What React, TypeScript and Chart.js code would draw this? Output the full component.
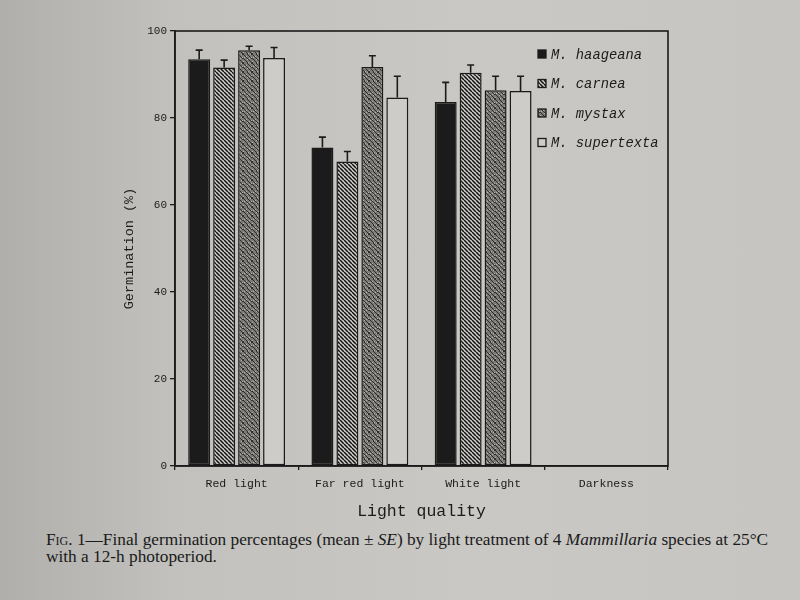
import React, { useEffect, useRef } from "react";
import { Chart, registerables } from "chart.js";

Chart.register(...registerables);

// ---- data ----
const categories = ["Red light", "Far red light", "White light", "Darkness"];
const speciesNames = ["M. haageana", "M. carnea", "M. mystax", "M. supertexta"];
const haageana = [93.5, 73.2, 83.7, 0];
const carnea = [91.6, 70.0, 90.4, 0];
const mystax = [95.6, 91.7, 86.4, 0];
const supertexta = [93.8, 84.7, 86.2, 0];
const haageanaSE = [2.1, 2.4, 4.5, 0];
const carneaSE = [1.7, 2.3, 1.8, 0];
const mystaxSE = [0.9, 2.6, 3.2, 0];
const supertextaSE = [2.4, 4.9, 3.4, 0];
const yMin = 0;
const yMax = 100;
const yStep = 20;
const xTitle = "Light quality";
const yTitle = "Germination (%)";

const INK = "#1b1b1b";
const PAPER = "#c7c6c2";
const MONO = '"Liberation Mono", "DejaVu Sans Mono", monospace';

function makeHatch(): CanvasPattern | string {
  const s = 4;
  const c = document.createElement("canvas");
  c.width = s;
  c.height = s;
  const g = c.getContext("2d");
  if (!g) return PAPER;
  g.fillStyle = "#cfceca";
  g.fillRect(0, 0, s, s);
  g.strokeStyle = "#121212";
  g.lineWidth = 1.5;
  g.beginPath();
  for (let k = -1; k <= 1; k++) {
    g.moveTo(k * s, 0);
    g.lineTo(k * s + s, s);
  }
  g.stroke();
  return g.createPattern(c, "repeat") || PAPER;
}

function makeStipple(): CanvasPattern | string {
  const s = 9;
  const c = document.createElement("canvas");
  c.width = s;
  c.height = s;
  const g = c.getContext("2d");
  if (!g) return "#777";
  g.fillStyle = "#7b7a77";
  g.fillRect(0, 0, s, s);
  for (let x = 0; x < s; x++) {
    for (let y = 0; y < s; y++) {
      if ((x * 37 + y * 91) % 4 === 0) {
        g.fillStyle = "#2e2e2c";
        g.fillRect(x, y, 1, 1);
      } else if ((x * 53 + y * 29) % 7 === 0) {
        g.fillStyle = "#b3b2ae";
        g.fillRect(x, y, 1, 1);
      }
    }
  }
  return g.createPattern(c, "repeat") || "#777";
}

export default function App() {
  const ref = useRef<HTMLCanvasElement | null>(null);

  useEffect(() => {
    const canvas = ref.current;
    if (!canvas) return;
    const hatch = makeHatch();
    const stipple = makeStipple();
    const fills: (string | CanvasPattern)[] = [INK, hatch, stipple, "#cdccc8"];
    const series = [haageana, carnea, mystax, supertexta];
    const errors = [haageanaSE, carneaSE, mystaxSE, supertextaSE];

    const framePlugin = {
      id: "frame",
      afterDraw(chart: any) {
        const { ctx, chartArea: a } = chart;
        ctx.save();
        ctx.strokeStyle = INK;
        ctx.lineWidth = 1.6;
        ctx.strokeRect(a.left, a.top, a.right - a.left, a.bottom - a.top);
        ctx.restore();
      },
    };

    const errorPlugin = {
      id: "errorBars",
      afterDatasetsDraw(chart: any) {
        const ctx = chart.ctx;
        const ys = chart.scales.y;
        chart.data.datasets.forEach((ds: any, i: number) => {
          const meta = chart.getDatasetMeta(i);
          meta.data.forEach((bar: any, j: number) => {
            const v = ds.data[j];
            const e = errors[i][j];
            if (!e) return;
            const top = ys.getPixelForValue(v);
            const et = ys.getPixelForValue(v + e);
            ctx.save();
            ctx.strokeStyle = INK;
            ctx.lineWidth = 1.6;
            ctx.beginPath();
            ctx.moveTo(bar.x, top);
            ctx.lineTo(bar.x, et);
            ctx.moveTo(bar.x - 3.5, et);
            ctx.lineTo(bar.x + 3.5, et);
            ctx.stroke();
            ctx.restore();
          });
        });
      },
    };

    const legendPlugin = {
      id: "innerLegend",
      afterDraw(chart: any) {
        const ctx = chart.ctx;
        const a = chart.chartArea;
        const bx = a.right - 130;
        const y0 = a.top + 23;
        const dy = 29.5;
        ctx.save();
        ctx.font = `italic 13.8px ${MONO}`;
        ctx.textBaseline = "middle";
        ctx.fillStyle = INK;
        speciesNames.forEach((name, i) => {
          const y = y0 + i * dy;
          ctx.fillStyle = fills[i] as any;
          ctx.fillRect(bx, y - 4, 8, 8);
          ctx.strokeStyle = INK;
          ctx.lineWidth = 1.3;
          ctx.strokeRect(bx, y - 4, 8, 8);
          ctx.fillStyle = INK;
          ctx.fillText(name, bx + 13, y + 1);
        });
        ctx.restore();
      },
    };

    const chart = new Chart(canvas, {
      type: "bar",
      data: {
        labels: categories,
        datasets: series.map((d, i) => ({
          label: speciesNames[i],
          data: d,
          backgroundColor: fills[i] as any,
          borderColor: INK,
          borderWidth: 1.5,
          borderSkipped: false,
          categoryPercentage: 0.81,
          barPercentage: 0.88,
        })),
      },
      options: {
        responsive: false,
        animation: false,
        layout: { padding: { left: 117, right: 132, top: 31, bottom: 0 } },
        plugins: {
          legend: { display: false },
          tooltip: { enabled: false },
        },
        scales: {
          x: {
            afterFit(scale: any) {
              scale.height = 60;
            },
            grid: {
              drawOnChartArea: false,
              offset: true,
              tickLength: 4,
              color: INK,
              lineWidth: 1.3,
            },
            border: { display: true, color: INK, width: 1.6 },
            ticks: {
              color: INK,
              font: { family: MONO, size: 11.5 },
              padding: 7,
              maxRotation: 0,
            },
            title: {
              display: true,
              text: xTitle,
              color: INK,
              font: { family: MONO, size: 16.5 },
              padding: { top: 4, bottom: 4 },
            },
          },
          y: {
            min: yMin,
            max: yMax,
            afterFit(scale: any) {
              scale.width = 58;
            },
            grid: {
              drawOnChartArea: false,
              tickLength: 5,
              color: INK,
              lineWidth: 1.3,
            },
            border: { display: true, color: INK, width: 1.6 },
            ticks: {
              stepSize: yStep,
              color: INK,
              font: { family: MONO, size: 11 },
              padding: 3,
            },
            title: {
              display: true,
              text: yTitle,
              color: INK,
              font: { family: MONO, size: 13.5 },
              padding: { top: 4, bottom: 4 },
            },
          },
        },
      },
      plugins: [errorPlugin, framePlugin, legendPlugin],
    });
    return () => chart.destroy();
  }, []);

  return (
    <div
      style={{
        position: "fixed",
        left: 0,
        top: 0,
        width: 800,
        height: 600,
        overflow: "hidden",
        background:
          "linear-gradient(to right, #b0afab 0%, #c2c1bd 22%, #c9c8c4 60%, #c6c5c1 100%)",
      }}
    >
      <canvas
        ref={ref}
        width={800}
        height={526}
        style={{ position: "absolute", left: 0, top: 0, width: 800, height: 526 }}
      />
      <div
        style={{
          position: "absolute",
          left: 46,
          top: 531,
          whiteSpace: "nowrap",
          font: '17.3px "Liberation Serif", "DejaVu Serif", serif',
          lineHeight: "17px",
          color: "#1a1a1a",
        }}
      >
        <span style={{ fontVariant: "small-caps" }}>Fig.</span> 1—Final germination
        percentages (mean ± <i>SE</i>) by light treatment of 4 <i>Mammillaria</i>{" "}
        species at 25°C
        <br />
        with a 12-h photoperiod.
      </div>
    </div>
  );
}
